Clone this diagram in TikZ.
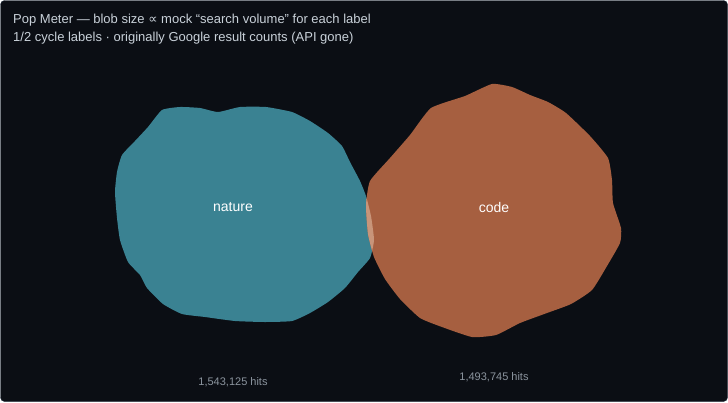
\documentclass[tikz,border=0pt]{standalone}
\usepackage{fontspec}
\setmainfont{Liberation Sans}
\newfontfamily\symbfont{DejaVu Sans}
\usetikzlibrary{positioning}

\definecolor{bgdark}{HTML}{0B0E14}
\definecolor{framecol}{HTML}{1E2A3A}
\definecolor{titlecol}{HTML}{C9D1D9}
\definecolor{hitscol}{HTML}{8B949E}
\definecolor{tealblob}{HTML}{3A8292}
\definecolor{rustblob}{HTML}{A65F40}
\definecolor{overlapcol}{HTML}{C8957A}

\tikzstyle{titletext} = [anchor=base west, inner sep=0, text=titlecol, font=\fontsize{13}{15}\selectfont]
\tikzstyle{blobtext} = [inner sep=0, text=white, font=\fontsize{14}{16}\selectfont]
\tikzstyle{hitstext} = [inner sep=0, text=hitscol, font=\fontsize{11}{13}\selectfont]

% blob outlines, in pixels of the 728x402 picture
\def\naturepath{plot[smooth cycle, tension=0.3] coordinates {
    (162,110) (180,107) (200,108) (218,112) (240,107) (266,107) (292,112)
    (310,121) (328,133) (342,146) (350,162) (360,181) (366,196) (371,216)
    (374,240) (370,258) (358,272) (345,288) (328,302) (310,313) (292,321)
    (265,322) (235,321) (205,317) (182,314) (163,304) (147,288) (140,275)
    (128,262) (120,240) (117,218) (115,192) (117,172) (122,155) (135,141)
    (148,127)}}
\def\codepath{plot[smooth cycle, tension=0.3] coordinates {
    (465,96) (492,84) (512,87) (530,95) (548,102) (566,113) (590,136)
    (608,158) (612,180) (613,203) (621,228) (620,243) (607,266) (592,290)
    (571,304) (547,313) (520,323) (496,335) (472,337) (442,327) (420,318)
    (400,299) (385,279) (374,257) (368,234) (366,205) (370,181) (390,158)
    (410,135) (431,108)}}

\begin{document}
\begin{tikzpicture}[x=1pt, y=-1pt]
    \useasboundingbox (0,0) rectangle (728,402);
    \draw[fill=bgdark, draw=framecol, rounded corners=4pt] (0.5,0.5) rectangle (727.5,401.5);

    \node[titletext] (title1) at (13,23) {Pop Meter --- blob size {\symbfont ∝} mock “search volume” for each label};
    \node[titletext] (title2) at (13,41) {1/2 cycle labels · originally Google result counts (API gone)};

    % the two blobs and their overlap
    \fill[tealblob] \naturepath;
    \fill[rustblob] \codepath;
    \begin{scope}
        \clip \naturepath;
        \fill[overlapcol] \codepath;
    \end{scope}

    \node[blobtext] (nature) at (233,207) {nature};
    \node[blobtext] (code) at (494,207) {code};

    \node[hitstext] (naturehits) at (233,382) {1,543,125 hits};
    \node[hitstext] (codehits) at (494,377) {1,493,745 hits};
\end{tikzpicture}
\end{document}
